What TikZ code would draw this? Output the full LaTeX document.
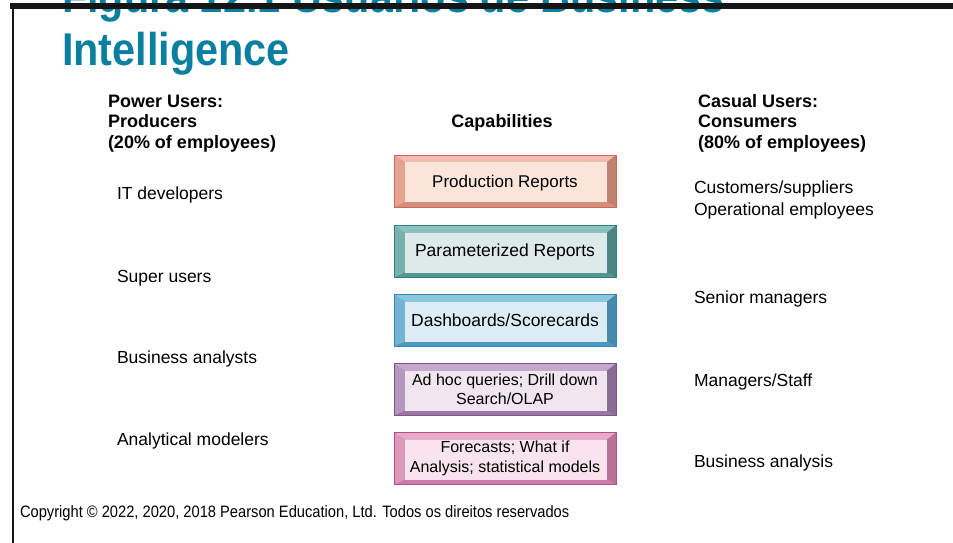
\documentclass[tikz,border=0pt]{standalone}
\usepackage{fontspec}
\usepackage{graphicx}
\setmainfont{Liberation Sans}
\usetikzlibrary{calc}
\definecolor{titleblue}{HTML}{0B7FA0}
\definecolor{frameline}{HTML}{151515}
% red box
\definecolor{rBorder}{HTML}{D2665A}\definecolor{rTop}{HTML}{F0BCAE}\definecolor{rLeft}{HTML}{E7A392}\definecolor{rDark}{HTML}{D4907E}\definecolor{rIn}{HTML}{FBE4DA}
% teal box
\definecolor{tBorder}{HTML}{2E8180}\definecolor{tTop}{HTML}{8DC1BE}\definecolor{tLeft}{HTML}{78B2AF}\definecolor{tDark}{HTML}{559592}\definecolor{tIn}{HTML}{DCEBEA}
% blue box
\definecolor{bBorder}{HTML}{2F8AB4}\definecolor{bTop}{HTML}{8DC5DF}\definecolor{bLeft}{HTML}{74B3D3}\definecolor{bDark}{HTML}{4E98BF}\definecolor{bIn}{HTML}{DCECF4}
% purple box
\definecolor{pBorder}{HTML}{7E5490}\definecolor{pTop}{HTML}{C3A9CB}\definecolor{pLeft}{HTML}{B497BD}\definecolor{pDark}{HTML}{9977A3}\definecolor{pIn}{HTML}{F1E6F0}
% pink box
\definecolor{kBorder}{HTML}{B84C86}\definecolor{kTop}{HTML}{E6ABC8}\definecolor{kLeft}{HTML}{DC98BA}\definecolor{kDark}{HTML}{CC7CA6}\definecolor{kIn}{HTML}{F9E4EE}
\tikzset{
  every node/.style={inner sep=0pt, outer sep=0pt},
  titletext/.style={font=\fontsize{46}{50}\selectfont\bfseries, text=titleblue, anchor=base west},
  hdr/.style={font=\fontsize{18}{20.5}\selectfont\bfseries, align=left, anchor=base west},
  lst/.style={font=\fontsize{17.5}{22}\selectfont, align=left, anchor=base west},
  smalltxt/.style={font=\fontsize{16}{19.5}\selectfont},
  capbox/.style n args={5}{minimum width=222pt, minimum height=52pt, draw=#1, line width=0.9pt,
    fill=#2, align=center, font=\fontsize{17.5}{20}\selectfont,
    path picture={
      \coordinate (oNW) at (path picture bounding box.north west);
      \coordinate (oNE) at (path picture bounding box.north east);
      \coordinate (oSW) at (path picture bounding box.south west);
      \coordinate (oSE) at (path picture bounding box.south east);
      \coordinate (iNW) at ([xshift=11pt,yshift=-7pt]oNW);
      \coordinate (iNE) at ([xshift=-9pt,yshift=-7pt]oNE);
      \coordinate (iSW) at ([xshift=11pt,yshift=5pt]oSW);
      \coordinate (iSE) at ([xshift=-9pt,yshift=5pt]oSE);
      \fill[#3] (oNW) -- (iNW) -- (iSW) -- (oSW) -- cycle;
      \fill[#4] (oSW) -- (iSW) -- (iSE) -- (oSE) -- cycle;
      \fill[#4!90!black] (oNE) -- (iNE) -- (iSE) -- (oSE) -- cycle;
      \fill[#5] (iNW) rectangle (iSE);
    }},
  frameline/.style={draw=frameline, line width=2.6pt}
}
\begin{document}
\begin{tikzpicture}[x=1pt, y=-1pt]
\useasboundingbox (0,0) rectangle (953,542);
\clip (0,0) rectangle (953,542);
% title
\node[titletext] (title1) at (62,12) {\scalebox{0.9}[1]{Figura 12.1 Usuários de Business}};
\node[titletext] (title2) at (62,65) {\scalebox{0.9}[1]{Intelligence}};
% frame
\coordinate (fTL) at (13,6);
\coordinate (fBL) at (13,560);
\coordinate (fTR) at (960,6);
\draw[frameline] (fBL) -- (fTL);
\fill[frameline] (11.7,4.7) rectangle (960,7.3);
% headers
\node[hdr] (powerhdr) at (108,148) {Power Users:\\Producers\\(20\% of employees)};
\node[hdr, anchor=base] (caphdr) at (502,127) {Capabilities};
\node[hdr] (casualhdr) at (698,148) {Casual Users:\\Consumers\\(80\% of employees)};
% left list
\node[lst] (itdev) at (117,199) {IT developers};
\node[lst] (super) at (117,282) {Super users};
\node[lst] (banal) at (117,363) {Business analysts};
\node[lst] (amod) at (117,445) {Analytical modelers};
% right list
\node[lst] (cust) at (694,215) {Customers/suppliers\\Operational employees};
\node[lst] (senior) at (694,303) {Senior managers};
\node[lst] (mgr) at (694,386) {Managers/Staff};
\node[lst] (bana2) at (694,467) {Business analysis};
% capability boxes
\node[capbox={rBorder}{rTop}{rLeft}{rDark}{rIn}, font=\fontsize{17}{20}\selectfont, text depth=0pt] (prod) at (505,181) {Production Reports};
\node[capbox={tBorder}{tTop}{tLeft}{tDark}{tIn}] (param) at (505,251.5) {Parameterized Reports};
\node[capbox={bBorder}{bTop}{bLeft}{bDark}{bIn}] (dash) at (505,320.5) {Dashboards/Scorecards};
\node[capbox={pBorder}{pTop}{pLeft}{pDark}{pIn}, smalltxt] (adhoc) at (505,389.5) {Ad hoc queries; Drill down\\Search/OLAP};
\node[capbox={kBorder}{kTop}{kLeft}{kDark}{kIn}, smalltxt] (fore) at (505,458.5) {Forecasts; What if\\Analysis; statistical models};
% copyright
\node[anchor=base west, font=\fontsize{16.5}{18}\selectfont] (copy) at (20,517) {\scalebox{0.89}[1]{Copyright © 2022, 2020, 2018 Pearson Education, Ltd. Todos os direitos reservados}};
\end{tikzpicture}
\end{document}
